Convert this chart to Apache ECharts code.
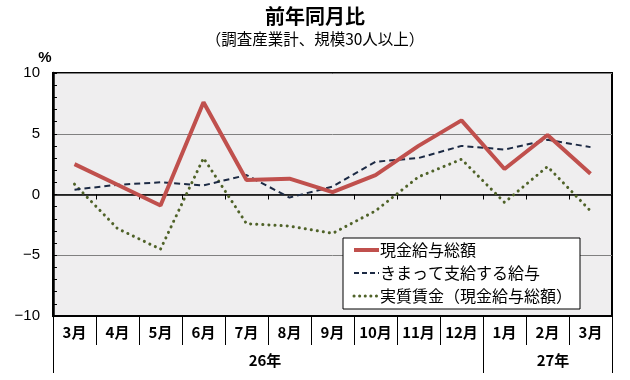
<!DOCTYPE html>
<html><head><meta charset="utf-8">
<script src="https://cdn.jsdelivr.net/npm/echarts@6/dist/echarts.min.js"></script>
<style>html,body{margin:0;padding:0;background:#fff}#c{width:630px;height:380px}</style>
</head><body><div id="c"></div>
<script>
var months = ['3月','4月','5月','6月','7月','8月','9月','10月','11月','12月','1月','2月','3月'];
var years = ['','','','','26年','','','','','','','27年',''];
var genkin = [2.5, 0.8, -0.9, 7.6, 1.2, 1.3, 0.2, 1.6, 4.0, 6.1, 2.1, 4.9, 1.7];
var kimatte = [0.4, 0.8, 1.0, 0.75, 1.6, -0.25, 0.65, 2.7, 3.0, 4.0, 3.7, 4.5, 3.9];
var jisshitsu = [0.85, -2.8, -4.5, 3.0, -2.4, -2.6, -3.2, -1.35, 1.45, 2.9, -0.65, 2.3, -1.35];
var seriesNames = ['現金給与総額','きまって支給する給与','実質賃金（現金給与総額）'];
var yTicks = {min: -10, max: 10, interval: 5};

var colors = ['#c0504d', '#1c2a44', '#4f6228'];
var font = '"Noto Sans CJK JP", sans-serif';
var chart = echarts.init(document.getElementById('c'));
chart.setOption({
  animation: false,
  title: {
    text: '前年同月比',
    subtext: '（調査産業計、規模30人以上）',
    left: 'center', top: 1, itemGap: 5,
    textStyle: {fontFamily: font, fontSize: 20, fontWeight: 'bold', color: '#000'},
    subtextStyle: {fontFamily: font, fontSize: 15.5, color: '#000'}
  },
  grid: {left: 53, right: 18, top: 73, bottom: 64, show: true,
    backgroundColor: '#efeeef', borderColor: '#000', borderWidth: 2},
  legend: {
    left: 343, top: 238, orient: 'vertical',
    backgroundColor: '#fff', borderColor: '#000', borderWidth: 1,
    padding: [4, 8, 5, 9], itemGap: 7, itemWidth: 25, itemHeight: 14,
    textStyle: {fontFamily: font, fontSize: 16, color: '#000', padding: [0, 0, 0, -4]},
    data: [
      {name: seriesNames[0], icon: 'line', itemStyle: {color: colors[0], borderColor: colors[0], borderWidth: 4}},
      {name: seriesNames[1], icon: 'line', itemStyle: {color: colors[1], borderColor: colors[1], borderWidth: 2, borderType: [5, 3]}},
      {name: seriesNames[2], icon: 'line', itemStyle: {color: colors[2], borderColor: colors[2], borderWidth: 3, borderType: [0.1, 5.5], borderCap: 'round'}}
    ]
  },
  xAxis: [
    {type: 'category', data: months, position: 'bottom',
     axisLine: {onZero: true, lineStyle: {color: '#000', width: 1.5}},
     axisTick: {show: true, length: 5, lineStyle: {color: '#000', width: 1}},
     axisLabel: {show: false}, splitLine: {show: false}},
    {type: 'category', data: months, position: 'bottom',
     axisLine: {onZero: false, lineStyle: {color: '#000', width: 2}},
     axisTick: {show: true, length: 29, lineStyle: {color: '#000', width: 1}},
     axisLabel: {fontFamily: font, fontSize: 15, fontWeight: 'bold', color: '#000', margin: 9}},
    {type: 'category', data: years, position: 'bottom',
     axisLine: {show: false, onZero: false},
     axisTick: {show: true, length: 57, interval: function (i) { return i === 0 || i === 10; }, lineStyle: {color: '#000', width: 1}},
     axisLabel: {interval: 0, fontFamily: font, fontSize: 15, fontWeight: 'bold', color: '#000', margin: 37,
       formatter: function (v, i) { if (!v) return ''; return i === 4 ? '{a|' + v + '}' : '{b|' + v + '}'; },
       rich: {a: {padding: [0, 0, 0, 37], fontFamily: font, fontSize: 15, fontWeight: 'bold', color: '#000'},
              b: {padding: [0, 0, 0, 11], fontFamily: font, fontSize: 15, fontWeight: 'bold', color: '#000'}}}}
  ],
  yAxis: {
    type: 'value', min: yTicks.min, max: yTicks.max, interval: yTicks.interval,
    name: '%', nameLocation: 'end', nameGap: 8,
    nameTextStyle: {fontFamily: 'Liberation Sans, sans-serif', fontSize: 15, fontWeight: 'bold', color: '#000', padding: [0, 16, 0, 0]},
    axisLine: {show: true, lineStyle: {color: '#000', width: 2.5}},
    axisTick: {show: true, inside: true, length: 4, lineStyle: {color: '#000'}},
    minorTick: {show: true, splitNumber: 5, length: 4, lineStyle: {color: '#000'}},
    axisLabel: {fontFamily: 'Liberation Sans, sans-serif', fontSize: 15, color: '#000', margin: 13,
      formatter: function (v) { return String(v).replace('-', '\u2212'); }},
    splitLine: {show: true, lineStyle: {color: '#808080', width: 1}}
  },
  series: [
    {name: seriesNames[0], type: 'line', xAxisIndex: 1, data: genkin, symbol: 'none', z: 5,
     color: colors[0], lineStyle: {color: colors[0], width: 4}},
    {name: seriesNames[1], type: 'line', xAxisIndex: 1, data: kimatte, symbol: 'none', z: 4,
     color: colors[1], lineStyle: {color: colors[1], width: 2, type: [6, 4]}},
    {name: seriesNames[2], type: 'line', xAxisIndex: 1, data: jisshitsu, symbol: 'none', z: 3,
     color: colors[2], lineStyle: {color: colors[2], width: 3, type: [0.1, 6], cap: 'round'}}
  ]
});
</script></body></html>
